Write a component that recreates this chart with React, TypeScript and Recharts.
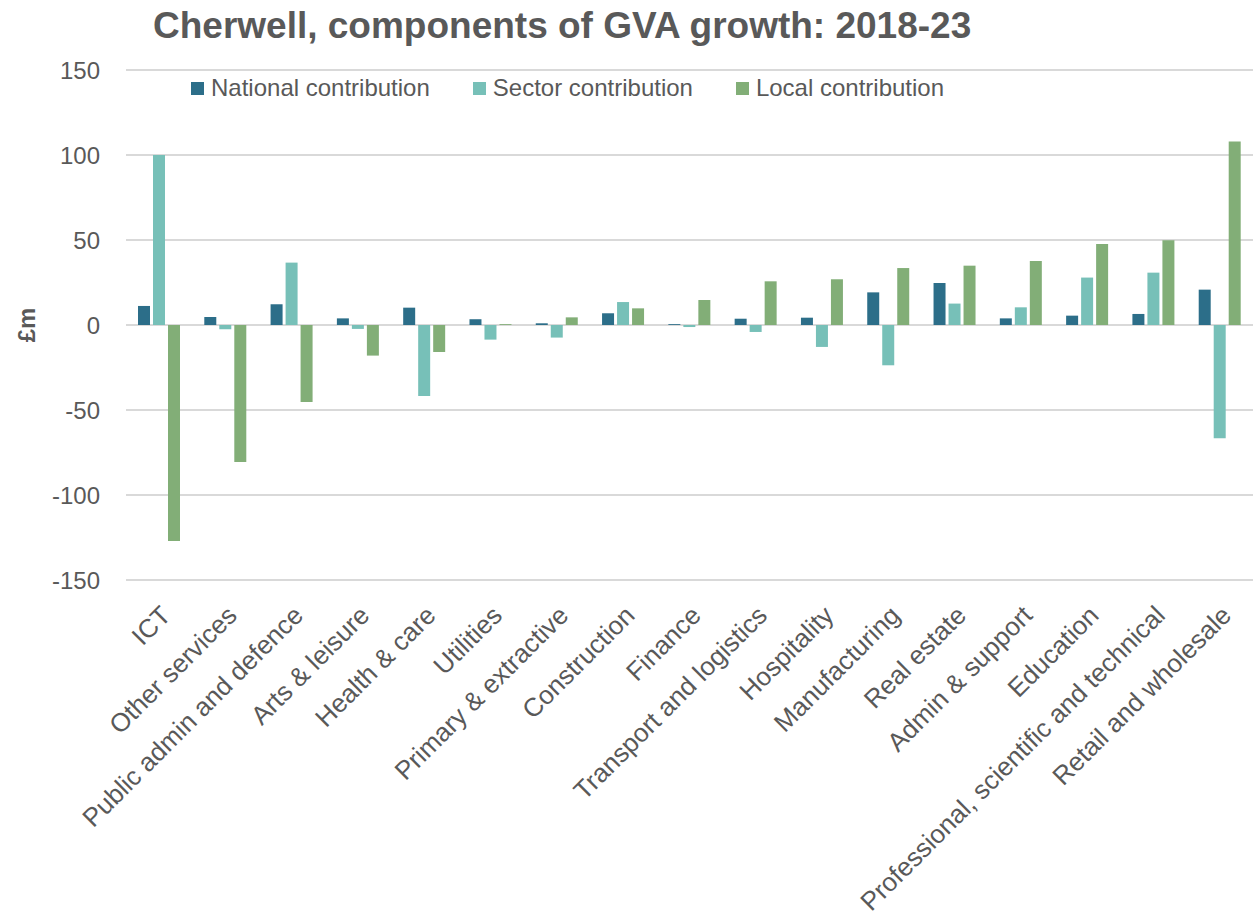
import React from 'react';
import {
  BarChart,
  Bar,
  XAxis,
  YAxis,
  CartesianGrid,
} from 'recharts';

// Sectors, in the order shown on the x axis
const sectors = [
  'ICT',
  'Other services',
  'Public admin and defence',
  'Arts & leisure',
  'Health & care',
  'Utilities',
  'Primary & extractive',
  'Construction',
  'Finance',
  'Transport and logistics',
  'Hospitality',
  'Manufacturing',
  'Real estate',
  'Admin & support',
  'Education',
  'Professional, scientific and technical',
  'Retail and wholesale',
];

// £m
const national = [11.2, 4.7, 12.2, 3.9, 10.2, 3.4, 1.0, 6.9, 0.5, 3.7, 4.3, 19.2, 24.7, 3.9, 5.5, 6.5, 20.8];
const sector = [100, -2.5, 36.7, -2.3, -41.8, -8.6, -7.4, 13.5, -1.2, -4.1, -12.9, -23.7, 12.6, 10.4, 27.9, 30.8, -66.6];
const local = [-127, -80.6, -45.3, -18, -15.9, 0.5, 4.5, 9.8, 14.7, 25.7, 26.9, 33.5, 34.9, 37.7, 47.7, 49.8, 108];

const yTicks = [-150, -100, -50, 0, 50, 100, 150];

const series = [
  { key: 'national', name: 'National contribution', color: '#2c6e89' },
  { key: 'sector', name: 'Sector contribution', color: '#77c0b8' },
  { key: 'local', name: 'Local contribution', color: '#82ae77' },
];

const data = sectors.map((name, i) => ({
  name,
  national: national[i],
  sector: sector[i],
  local: local[i],
}));

const FONT = '"Liberation Sans", Arial, sans-serif';
const GREY = '#595959';

const SectorTick = (props: any) => {
  const { x, y, payload } = props;
  const tx = x + 13;
  const ty = y + 37;
  return (
    <text
      x={tx}
      y={ty}
      transform={`rotate(-45, ${tx}, ${ty})`}
      textAnchor="end"
      fill={GREY}
      fontSize={26}
      fontFamily={FONT}
    >
      {payload.value}
    </text>
  );
};

// legend sits inside the plot area, top left
const ChartLegend = () => (
  <div
    style={{
      position: 'absolute',
      left: 191,
      top: 74,
      display: 'flex',
      gap: 43,
      fontFamily: FONT,
      fontSize: 24,
      color: GREY,
      lineHeight: '28px',
      whiteSpace: 'nowrap',
    }}
  >
    {series.map((s) => (
      <div key={s.key} style={{ display: 'flex', alignItems: 'center', gap: 7 }}>
        <div style={{ width: 13, height: 13, background: s.color }} />
        <span>{s.name}</span>
      </div>
    ))}
  </div>
);

export default function App() {
  return (
    <div style={{ position: 'absolute', left: 0, top: 0, width: 1255, height: 923, background: '#fff' }}>
      <div
        style={{
          position: 'absolute',
          left: 153,
          top: 7,
          fontFamily: FONT,
          fontSize: 37,
          fontWeight: 700,
          lineHeight: 1,
          color: GREY,
          whiteSpace: 'nowrap',
        }}
      >
        Cherwell, components of GVA growth: 2018-23
      </div>
      <div
        style={{
          position: 'absolute',
          left: 27,
          top: 325,
          transform: 'translate(-50%, -50%) rotate(-90deg)',
          fontFamily: FONT,
          fontSize: 24,
          fontWeight: 700,
          color: GREY,
        }}
      >
        £m
      </div>
      <BarChart
        width={1255}
        height={923}
        data={data}
        margin={{ top: 70, right: 2, bottom: 0, left: 0 }}
        barSize={12}
        barGap={3}
      >
        <CartesianGrid vertical={false} stroke="#d9d9d9" strokeWidth={2} />
        <XAxis
          dataKey="name"
          interval={0}
          height={343}
          axisLine={false}
          tickLine={false}
          tickSize={0}
          tickMargin={0}
          tick={<SectorTick />}
        />
        <YAxis
          width={126}
          domain={[-150, 150]}
          ticks={yTicks}
          axisLine={false}
          tickLine={false}
          tickSize={6}
          tickMargin={20}
          tick={{ fill: GREY, fontSize: 24, fontFamily: FONT }}
        />
        {series.map((s) => (
          <Bar key={s.key} dataKey={s.key} name={s.name} fill={s.color} isAnimationActive={false} />
        ))}
      </BarChart>
      <ChartLegend />
    </div>
  );
}
